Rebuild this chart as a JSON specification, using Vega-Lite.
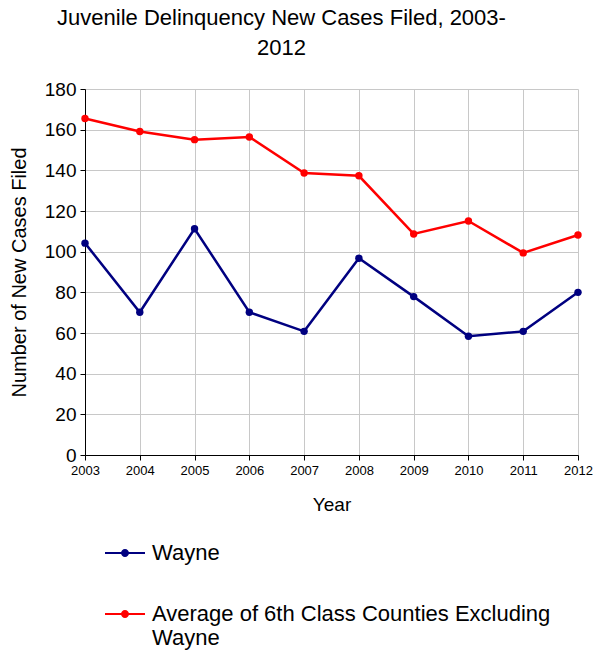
{
  "$schema": "https://vega.github.io/schema/vega-lite/v6.json",
  "width": 493,
  "height": 366,
  "autosize": "none",
  "padding": {"left": 85, "top": 89, "right": 15, "bottom": 197},
  "background": "white",
  "config": {
    "font": "Liberation Sans",
    "view": {"stroke": null},
    "axis": {"gridColor": "#c8c8c8", "gridWidth": 1, "domainColor": "black", "tickColor": "black", "labelColor": "black", "titleColor": "black", "titleFontWeight": "normal"}
  },
  "title": {
    "text": ["Juvenile Delinquency New Cases Filed, 2003-", "2012"],
    "font": "Liberation Sans",
    "fontSize": 22,
    "fontWeight": "normal",
    "lineHeight": 30,
    "anchor": "middle",
    "frame": "group",
    "dx": -50,
    "offset": 20,
    "color": "black"
  },
  "data": {
    "values": [
      {"year": 2003, "series": "Wayne", "cases": 104.2},
      {"year": 2004, "series": "Wayne", "cases": 70.2},
      {"year": 2005, "series": "Wayne", "cases": 111.3},
      {"year": 2006, "series": "Wayne", "cases": 70.2},
      {"year": 2007, "series": "Wayne", "cases": 60.8},
      {"year": 2008, "series": "Wayne", "cases": 96.8},
      {"year": 2009, "series": "Wayne", "cases": 77.9},
      {"year": 2010, "series": "Wayne", "cases": 58.4},
      {"year": 2011, "series": "Wayne", "cases": 60.8},
      {"year": 2012, "series": "Wayne", "cases": 80.0},
      {"year": 2003, "series": "Average of 6th Class Counties Excluding Wayne", "cases": 165.5},
      {"year": 2004, "series": "Average of 6th Class Counties Excluding Wayne", "cases": 159.1},
      {"year": 2005, "series": "Average of 6th Class Counties Excluding Wayne", "cases": 155.1},
      {"year": 2006, "series": "Average of 6th Class Counties Excluding Wayne", "cases": 156.4},
      {"year": 2007, "series": "Average of 6th Class Counties Excluding Wayne", "cases": 138.7},
      {"year": 2008, "series": "Average of 6th Class Counties Excluding Wayne", "cases": 137.3},
      {"year": 2009, "series": "Average of 6th Class Counties Excluding Wayne", "cases": 108.7},
      {"year": 2010, "series": "Average of 6th Class Counties Excluding Wayne", "cases": 115.1},
      {"year": 2011, "series": "Average of 6th Class Counties Excluding Wayne", "cases": 99.4},
      {"year": 2012, "series": "Average of 6th Class Counties Excluding Wayne", "cases": 108.2}
    ]
  },
  "mark": {"type": "line", "strokeWidth": 2.5, "point": {"filled": true, "size": 55, "opacity": 1}},
  "encoding": {
    "x": {
      "field": "year",
      "type": "quantitative",
      "scale": {"domain": [2003, 2012], "nice": false, "zero": false},
      "axis": {
        "title": "Year",
        "values": [2003, 2004, 2005, 2006, 2007, 2008, 2009, 2010, 2011, 2012],
        "format": "d",
        "labelFontSize": 13,
        "titleFontSize": 19,
        "tickSize": 5,
        "labelPadding": 4,
        "titlePadding": 18,
        "labelFlush": false,
        "labelOverlap": false
      }
    },
    "y": {
      "field": "cases",
      "type": "quantitative",
      "scale": {"domain": [0, 180], "nice": false},
      "axis": {
        "title": "Number of New Cases Filed",
        "values": [0, 20, 40, 60, 80, 100, 120, 140, 160, 180],
        "labelFontSize": 19,
        "titleFontSize": 20,
        "tickSize": 5,
        "labelPadding": 4,
        "titlePadding": 15
      }
    },
    "color": {
      "field": "series",
      "type": "nominal",
      "scale": {
        "domain": ["Wayne", "Average of 6th Class Counties Excluding Wayne"],
        "range": ["#000080", "#ff0000"]
      },
      "legend": {
        "title": null,
        "orient": "none",
        "legendX": 20,
        "legendY": 444,
        "direction": "vertical",
        "padding": 0,
        "symbolType": "M-1,-0.05H1V0.05H-1Z M-0.2,0A0.2,0.2 0 1,1 0.2,0A0.2,0.2 0 1,1 -0.2,0Z",
        "symbolSize": 1600,
        "symbolStrokeWidth": 0,
        "labelFontSize": 22,
        "labelOffset": 7,
        "labelLimit": 600,
        "rowPadding": 30,
        "labelExpr": "datum.label == 'Average of 6th Class Counties Excluding Wayne' ? ['Average of 6th Class Counties Excluding', 'Wayne'] : datum.label",
        "encode": {
          "symbols": {"update": {"fill": {"scale": "color", "field": "value"}, "fillOpacity": {"value": 1}}}
        }
      }
    }
  }
}
